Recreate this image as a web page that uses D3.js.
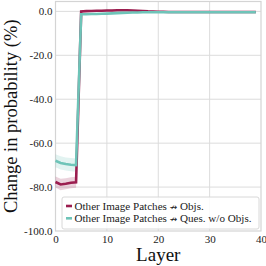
<!DOCTYPE html>
<html><head><meta charset="utf-8">
<script src="https://cdn.jsdelivr.net/npm/d3@7"></script>
<style>body{margin:0;background:#fff}svg{display:block}</style>
</head><body>
<svg id="c" width="266" height="266"></svg>
<script>
const layers = d3.range(0, 40);
const objsMean = [-77.7,-78.8,-78.5,-78.0,-77.8, 0.0,0.1,0.2,0.3,0.3, 0.4,0.4,0.5,0.5,0.5, 0.4,0.3,0.2,0.0,-0.1, -0.2,-0.2,-0.3,-0.3,-0.3, -0.3,-0.3,-0.3,-0.3,-0.3, -0.3,-0.3,-0.3,-0.3,-0.3, -0.3,-0.3,-0.3,-0.3,-0.3];
const objsErr  = [2.5,2.6,2.5,2.5,2.5, 0.3,0.3,0.3,0.3,0.3, 0.3,0.3,0.3,0.3,0.3, 0.3,0.3,0.3,0.3,0.3, 0.2,0.2,0.2,0.2,0.2, 0.2,0.2,0.2,0.2,0.2, 0.2,0.2,0.2,0.2,0.2, 0.2,0.2,0.2,0.2,0.2];
const quesMean = [-68.0,-69.0,-69.5,-69.8,-70.0, -1.3,-1.3,-1.2,-1.2,-1.1, -1.0,-0.9,-0.8,-0.7,-0.6, -0.5,-0.5,-0.4,-0.4,-0.4, -0.4,-0.4,-0.4,-0.4,-0.4, -0.4,-0.4,-0.4,-0.4,-0.4, -0.4,-0.4,-0.4,-0.4,-0.4, -0.4,-0.4,-0.4,-0.4,-0.4];
const quesErr  = [3.0,3.0,3.0,3.0,3.0, 0.3,0.3,0.3,0.3,0.3, 0.3,0.3,0.3,0.3,0.3, 0.2,0.2,0.2,0.2,0.2, 0.2,0.2,0.2,0.2,0.2, 0.2,0.2,0.2,0.2,0.2, 0.2,0.2,0.2,0.2,0.2, 0.2,0.2,0.2,0.2,0.2];
const seriesNames = [["Other Image Patches ", "Objs."], ["Other Image Patches ", "Ques. w/o Objs."]];
const arrowGlyph = "\u219B";
const seriesColors = ["#9b1d4f", "#6ec4b8"];
const xTicks = [0,10,20,30,40];
const yTicks = [-100,-80,-60,-40,-20,0];

const svg = d3.select("#c");
const L=55.5, R=261, T=1.5, B=231;
const x = d3.scaleLinear().domain([0,40]).range([L,R]);
const y = d3.scaleLinear().domain([-100,4.5]).range([B,T]);
const font = "'Liberation Serif', 'Times New Roman', Times, serif";

// grid
svg.append("g").selectAll("line").data(xTicks.slice(1,-1)).join("line")
  .attr("x1",d=>x(d)).attr("x2",d=>x(d)).attr("y1",T).attr("y2",B)
  .attr("stroke","#dcdcdc").attr("stroke-width",1);
svg.append("g").selectAll("line").data(yTicks.slice(1)).join("line")
  .attr("x1",L).attr("x2",R).attr("y1",d=>y(d)).attr("y2",d=>y(d))
  .attr("stroke","#dcdcdc").attr("stroke-width",1);
svg.append("rect").attr("x",L).attr("y",T).attr("width",R-L).attr("height",B-T)
  .attr("fill","none").attr("stroke","#d4d4d4").attr("stroke-width",1.2);

// axes
const xAxis = svg.append("g").attr("transform",`translate(0,${B})`)
  .call(d3.axisBottom(x).tickValues(xTicks).tickSize(0).tickPadding(4).tickFormat(d3.format("d")));
const yAxis = svg.append("g").attr("transform",`translate(${L},0)`)
  .call(d3.axisLeft(y).tickValues(yTicks).tickSize(0).tickPadding(3).tickFormat(d=>d.toFixed(1)));
[xAxis,yAxis].forEach(a=>{a.select(".domain").remove();
  a.attr("font-family",font).attr("font-size",11);
  a.selectAll("text").style("font-family",font).style("font-size","11px").attr("fill","#222");});

// bands and lines
const series = [
  {mean:objsMean, err:objsErr, color:seriesColors[0]},
  {mean:quesMean, err:quesErr, color:seriesColors[1]}
];
series.forEach(s=>{
  const area = d3.area().x((d,i)=>x(layers[i])).y0((d,i)=>y(d-s.err[i])).y1((d,i)=>y(d+s.err[i]));
  svg.append("path").datum(s.mean).attr("d",area).attr("fill",s.color).attr("fill-opacity",0.2);
});
series.forEach(s=>{
  const line = d3.line().x((d,i)=>x(layers[i])).y(d=>y(d));
  svg.append("path").datum(s.mean).attr("d",line).attr("fill","none")
    .attr("stroke",s.color).attr("stroke-width",2.6).attr("stroke-linejoin","miter");
});

// labels
svg.append("text").attr("x",(L+R)/2).attr("y",261).attr("text-anchor","middle")
  .style("font-family",font).style("font-size","19px").attr("fill","#111").text("Layer");
svg.append("text").attr("transform",`translate(17,${(T+B)/2}) rotate(-90)`).attr("text-anchor","middle")
  .style("font-family",font).style("font-size","18.5px").attr("fill","#111").text("Change in probability (%)");

// legend
const lg = svg.append("g");
lg.append("rect").attr("x",62).attr("y",197).attr("width",197).attr("height",32).attr("rx",2)
  .attr("fill","#fff").attr("fill-opacity",0.85).attr("stroke","#d8d8d8").attr("stroke-width",1);
seriesNames.forEach((n,i)=>{
  const yy = 206 + i*12.3;
  lg.append("line").attr("x1",66).attr("x2",72).attr("y1",yy).attr("y2",yy)
    .attr("stroke",seriesColors[i]).attr("stroke-width",2.6);
  const t = lg.append("text").attr("x",74.5).attr("y",yy+3.8).style("font-family",font).style("font-size","11.1px")
    .attr("fill","#222");
  t.append("tspan").text(n[0]);
  t.append("tspan").style("font-family","DejaVu Sans").style("font-size","9px").text(arrowGlyph);
  t.append("tspan").text(" " + n[1]);
});
</script>
</body></html>
